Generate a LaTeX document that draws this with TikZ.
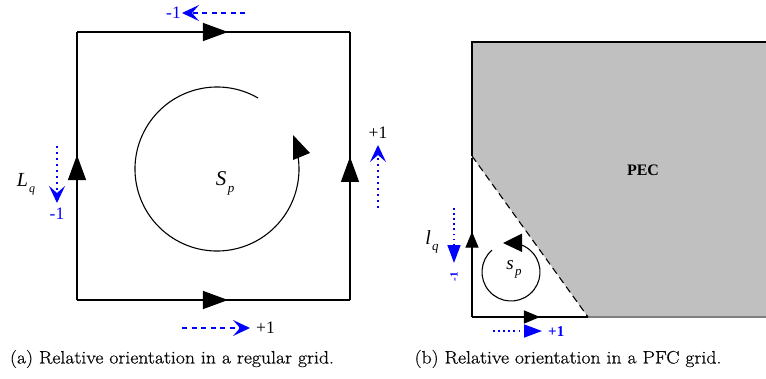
\documentclass[tikz,border=0pt]{standalone}
\usepackage{fontspec}
\newfontfamily\tms{Liberation Serif}
\newfontfamily\capfont[FakeBold=0.6]{Latin Modern Roman}
\usetikzlibrary{arrows.meta,decorations.markings}
\definecolor{pec}{RGB}{192,192,192}
\definecolor{pecedge}{RGB}{128,128,128}
\definecolor{captcol}{RGB}{10,10,10}
\begin{document}
\begin{tikzpicture}[x=1pt,y=-1pt,
  edge/.style={line width=1.2pt},
  edgearrow/.style={postaction={decorate},decoration={markings,mark=at position #1 with {\arrow{Triangle[length=25pt,width=18pt]}}}},
  smallarrow/.style={postaction={decorate},decoration={markings,mark=at position #1 with {\arrow{Triangle[length=16pt,width=13pt]}}}},
  bluedash/.style={draw=blue,line width=1.5pt,dash pattern=on 5pt off 4.5pt},
  bluedot/.style={draw=blue,line width=1.6pt,dash pattern=on 2pt off 4pt},
  bst/.style={-{Stealth[length=17pt,width=16pt,inset=7pt]}},
  btri/.style={-{Triangle[length=18pt,width=13pt]}},
  lab/.style={font=\tms\fontsize{17.5}{18}\selectfont},
  captext/.style={font=\capfont\fontsize{18}{20}\selectfont,text=captcol}]
\useasboundingbox (0,0) rectangle (766,378);
% ---------- (a) regular grid ----------
\coordinate (A) at (77,300);
\coordinate (B) at (350,300);
\coordinate (C) at (350,32);
\coordinate (D) at (77,32);
\draw[edge,edgearrow=0.553] (D) -- (C);
\draw[edge,edgearrow=0.534] (B) -- (C);
\draw[edge,edgearrow=0.553] (A) -- (B);
\draw[edge,edgearrow=0.541] (A) -- (D);
% circulation
\coordinate (O) at (217,169);
\draw[line width=1.1pt] (O) ++(60:82pt) arc[start angle=60,end angle=371,radius=82pt];
\fill (293,135) -- (310,153) -- (293,160) -- cycle;
\node[font=\tms\itshape\fontsize{21}{22}\selectfont] (Sp) at (225,183) {S\raisebox{-7pt}{\fontsize{13}{13}\selectfont\kern1.5pt p}};
\node[font=\tms\itshape\fontsize{20}{22}\selectfont] (Lq) at (26,184) {L\raisebox{-6pt}{\fontsize{12}{12}\selectfont\kern1pt q}};
% orientation arrows
\coordinate (t1) at (245,13); \coordinate (t2) at (182,13);
\draw[bluedash,bst,blue] (t1) -- (t2);
\node[lab,text=blue,anchor=east,inner sep=1pt] (tl) at (t2) {-1};
\coordinate (l1) at (57,146); \coordinate (l2) at (57,203);
\draw[bluedot,bst,blue] (l1) -- (l2);
\node[lab,text=blue] (ll) at (57,214) {-1};
\coordinate (r1) at (378,208); \coordinate (r2) at (378,145);
\draw[bluedot,bst,blue] (r1) -- (r2);
\node[lab] (rl) at (378,133) {+1};
\coordinate (b1) at (182,328); \coordinate (b2) at (250,328);
\draw[bluedash,bst,blue] (b1) -- (b2);
\node[lab,anchor=west,inner sep=2pt] (bl) at (254,328) {+1};
% ---------- (b) PFC grid ----------
\fill[pec] (472,42) -- (766,42) -- (766,317) -- (588,317) -- (472,156) -- cycle;
\draw[line width=1.2pt] (472,156) -- (472,42) -- (766,42);
\draw[pecedge,line width=1.2pt] (588,317) -- (766,317);
\draw[line width=1.1pt,dash pattern=on 7pt off 4.5pt] (472,156) -- (588,317);
\node[font=\tms\bfseries\fontsize{16}{16}\selectfont] (PEC) at (643,170) {PEC};
\coordinate (P) at (472,317); \coordinate (Q) at (472,158); \coordinate (R) at (588,317);
\draw[edge,smallarrow=0.537] (P) -- (Q);
\draw[edge,smallarrow=0.586] (P) -- (R);
\coordinate (o) at (511,272);
\draw[line width=1.1pt] (o) ++(131:29pt) arc[start angle=131,end angle=430,radius=29pt];
\fill (503,243) -- (522,233.5) -- (522,252) -- cycle;
\node[font=\tms\itshape\fontsize{19}{20}\selectfont] (sp) at (514,269) {s\raisebox{-6pt}{\fontsize{13}{13}\selectfont\kern1.5pt p}};
\node[font=\tms\itshape\fontsize{20}{22}\selectfont] (lq) at (432,242) {l\raisebox{-6pt}{\fontsize{13}{13}\selectfont\kern1pt q}};
\coordinate (u1) at (454,208); \coordinate (u2) at (454,263);
\draw[bluedot,btri,blue,dash pattern=on 1.6pt off 3.5pt] (u1) -- (u2);
\node[font=\tms\bfseries\fontsize{11}{11}\selectfont,text=blue,rotate=90] (ul) at (454,277) {-1};
\coordinate (v1) at (493,331); \coordinate (v2) at (542,331);
\draw[bluedot,btri,blue,dash pattern=on 1.6pt off 3.5pt] (v1) -- (v2);
\node[font=\tms\bfseries\fontsize{15}{16}\selectfont,text=blue,anchor=west,inner sep=1pt] (vl) at (547,332) {+1};
% captions
\node[captext] (capa) at (172,359) {\scalebox{1.096}[1]{(a) Relative orientation in a regular grid.}};
\node[captext] (capb) at (568,359) {\scalebox{1.096}[1]{(b) Relative orientation in a PFC grid.}};
\end{tikzpicture}
\end{document}
